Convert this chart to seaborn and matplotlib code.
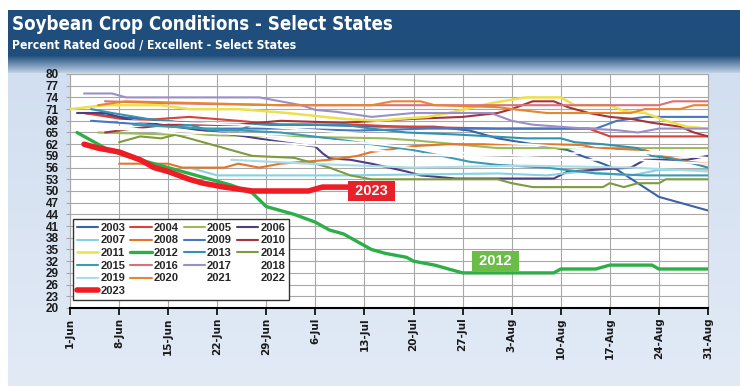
import numpy as np
import pandas as pd
import matplotlib
matplotlib.use("Agg")
import matplotlib.pyplot as plt
import seaborn as sns
from matplotlib.colors import to_rgb

sns.set_theme(style="white")
plt.rcParams['font.family'] = ['Liberation Sans', 'DejaVu Sans']

# ---------------- data ----------------
tick_labels = ["1-Jun", "8-Jun", "15-Jun", "22-Jun", "29-Jun", "6-Jul", "13-Jul",
               "20-Jul", "27-Jul", "3-Aug", "10-Aug", "17-Aug", "24-Aug", "31-Aug"]
y_ticks = list(range(20, 81, 3))

d2003 = ["Jun-03", "Jun-08", "Jun-14", "Jun-22", "Jul-05", "Jul-15", "Jul-23", "Jul-28", "Aug-01",
         "Aug-06", "Aug-11", "Aug-13", "Aug-16", "Aug-18", "Aug-21", "Aug-24", "Aug-27", "Aug-29", "Aug-31"]
v2003 = [70, 69, 68, 67, 67, 66.5, 66.5, 65.5, 63.5, 62, 60.5, 59, 57, 55.5, 52, 48.5, 47, 46, 45]

d2004 = ["Jun-03", "Jun-10", "Jun-18", "Jun-25", "Jul-01", "Jul-12", "Jul-18", "Aug-01", "Aug-14", "Aug-17", "Aug-31"]
v2004 = [70, 68, 69, 68, 67, 67, 66.5, 66, 66, 64, 64]

d2005 = ["Jun-05", "Jun-15", "Jul-01", "Jul-16", "Jul-20", "Aug-01", "Aug-15", "Aug-31"]
v2005 = [65, 64.5, 64, 63.5, 63, 61, 61, 61]

d2006 = ["Jun-02", "Jun-06", "Jun-10", "Jun-18", "Jun-26", "Jul-01", "Jul-06", "Jul-07", "Jul-08", "Jul-11",
         "Jul-14", "Jul-16", "Jul-19", "Jul-21", "Jul-26", "Aug-09", "Aug-11", "Aug-20", "Aug-22", "Aug-28", "Aug-31"]
v2006 = [70, 70, 68, 66, 64, 62.6, 61.4, 59.7, 58.4, 58, 57, 56.2, 55, 54, 53.2, 53.2, 55, 56, 58, 58, 59]

d2007 = ["Jun-18", "Jun-22", "Jul-10", "Aug-01", "Aug-08", "Aug-13", "Aug-20", "Aug-24", "Aug-31"]
v2007 = [56, 54, 54, 54.5, 54, 55, 54, 55.4, 55.4]

d2008 = ["Jun-08", "Jun-15", "Jun-17", "Jun-23", "Jun-25", "Jun-28", "Jul-01", "Jul-08", "Jul-12", "Jul-14",
         "Jul-20", "Jul-25", "Aug-08", "Aug-13", "Aug-15", "Aug-22", "Aug-24", "Aug-28", "Aug-31"]
v2008 = [57, 57, 56, 56, 57, 56, 57, 58, 59, 60, 61.5, 62, 62, 61.8, 61, 60.5, 59.2, 57.5, 57]

d2009 = ["Jun-04", "Jun-12", "Jun-20", "Jul-01", "Jul-12", "Jul-22", "Aug-05", "Aug-15", "Aug-18", "Aug-22", "Aug-31"]
v2009 = [68, 67, 66, 66, 65.5, 66, 66, 66, 68, 69, 69]

d2010 = ["Jun-06", "Jun-10", "Jun-15", "Jun-25", "Jul-01", "Jul-10", "Jul-20", "Jul-27", "Aug-01", "Aug-03",
         "Aug-06", "Aug-09", "Aug-11", "Aug-14", "Aug-17", "Aug-20", "Aug-23", "Aug-27", "Aug-29", "Aug-31"]
v2010 = [65, 66, 67, 67, 68, 67.5, 68.5, 69, 70, 71, 73, 73, 71.5, 70, 69, 68.5, 67.5, 66.5, 65, 64]

d2011 = ["Jun-01", "Jun-06", "Jun-14", "Jun-18", "Jun-25", "Jul-02", "Jul-10", "Jul-15", "Jul-18", "Jul-22",
         "Jul-25", "Jul-31", "Aug-05", "Aug-10", "Aug-12", "Aug-17", "Aug-19", "Aug-22", "Aug-25", "Aug-28", "Aug-31"]
v2011 = [71, 72, 72, 71, 71, 70, 68.5, 68, 68.5, 69, 70, 72.5, 74, 74, 72, 72, 70.5, 70, 68, 66.5, 66]

d2012 = ["Jun-02", "Jun-03", "Jun-06", "Jun-09", "Jun-12", "Jun-15", "Jun-18", "Jun-21", "Jun-24", "Jun-27",
         "Jun-29", "Jul-01", "Jul-03", "Jul-06", "Jul-08", "Jul-10", "Jul-12", "Jul-14", "Jul-16", "Jul-19",
         "Jul-20", "Jul-23", "Jul-27", "Aug-09", "Aug-10", "Aug-15", "Aug-17", "Aug-23", "Aug-24", "Aug-31"]
v2012 = [65, 64, 61, 59, 57.5, 56, 54.5, 53, 51.5, 49.5, 46, 45, 44, 42, 40, 39, 37, 35, 34, 33,
         32, 31, 29, 29, 30, 30, 31, 31, 30, 30]

d2013 = ["Jun-04", "Jun-07", "Jun-12", "Jun-15", "Jun-18", "Jun-21", "Jun-25", "Jun-27", "Jul-03", "Jul-10",
         "Jul-14", "Jul-19", "Jul-26", "Jul-31", "Aug-05", "Aug-10", "Aug-12", "Aug-16", "Aug-21", "Aug-23",
         "Aug-25", "Aug-29", "Aug-31"]
v2013 = [71, 70, 68.5, 68, 67, 65.5, 65.5, 67, 67, 67, 66, 65, 64.5, 64, 63.5, 63.5, 62.5, 62, 61, 59,
         58.5, 57, 56]

d2014 = ["Jun-08", "Jun-11", "Jun-14", "Jun-16", "Jun-18", "Jun-21", "Jun-23", "Jun-25", "Jun-27", "Jul-03",
         "Jul-05", "Jul-08", "Jul-11", "Jul-14", "Jul-20", "Aug-01", "Aug-03", "Aug-06", "Aug-16", "Aug-17",
         "Aug-19", "Aug-21", "Aug-24", "Aug-25", "Aug-31"]
v2014 = [62.5, 64, 63.5, 64.4, 63.5, 62, 61, 60, 59, 58.5, 57.5, 56, 54, 53, 53, 53, 52, 51, 51, 52,
         51, 52, 52, 53, 53]

d2015 = ["Jun-10", "Jun-20", "Jul-01", "Jul-08", "Jul-14", "Jul-20", "Jul-24", "Jul-28", "Aug-01", "Aug-08",
         "Aug-15", "Aug-22", "Aug-31"]
v2015 = [67, 66, 65, 63.5, 62, 60.5, 59, 57.5, 56.7, 56, 54.5, 54, 54]

d2016 = ["Jun-06", "Jun-15", "Jul-01", "Jul-15", "Aug-01", "Aug-24", "Aug-26", "Aug-31"]
v2016 = [73, 72.5, 72, 72, 72, 72, 73, 73]

d2017 = ["Jun-03", "Jun-07", "Jun-09", "Jun-28", "Jul-01", "Jul-04", "Jul-06", "Jul-09", "Jul-14", "Jul-20",
         "Jul-31", "Aug-03", "Aug-06", "Aug-12", "Aug-18", "Aug-21", "Aug-24", "Aug-31"]
v2017 = [75, 75, 74, 74, 73, 72, 70.8, 70.3, 69, 70, 70, 68, 67, 66.2, 65.6, 65, 66, 66]

d2018 = ["Jun-05", "Jun-15", "Jun-30", "Jul-15", "Jul-25", "Aug-05", "Aug-15", "Aug-31"]
v2018 = [66, 65.5, 64, 62, 60, 59, 60, 60]

d2019 = ["Jun-24", "Jul-05", "Jul-20", "Aug-05", "Aug-20", "Aug-31"]
v2019 = [58, 57, 56, 56.5, 56, 55]

d2020 = ["Jun-05", "Jun-09", "Jun-20", "Jul-01", "Jul-14", "Jul-17", "Jul-21", "Jul-23", "Aug-01", "Aug-04",
         "Aug-08", "Aug-20", "Aug-22", "Aug-27", "Aug-29", "Aug-31"]
v2020 = [72, 73, 72.5, 72, 72, 73, 73, 72, 71.5, 70.8, 70, 70, 71, 71, 72, 72]

d2021 = ["Jun-05", "Jun-20", "Jul-10", "Jul-25", "Aug-10", "Aug-20", "Aug-31"]
v2021 = [67, 64, 61, 59, 58, 58, 57]

d2022 = ["Jun-08", "Jun-25", "Jul-10", "Jul-25", "Aug-05", "Aug-20", "Aug-31"]
v2022 = [68, 67, 65, 63, 62, 60, 58.5]

d2023 = ["Jun-03", "Jun-05", "Jun-08", "Jun-11", "Jun-13", "Jun-15", "Jun-18", "Jun-20", "Jun-23", "Jun-27",
         "Jul-05", "Jul-07", "Jul-11"]
v2023 = [62, 61, 60, 58, 56, 55, 53, 52, 51, 50, 50, 51, 51]

# ---------------- styles ----------------
series = {
    2003: (d2003, v2003, "#3C63A6", 1.5),
    2004: (d2004, v2004, "#D9423A", 1.5),
    2005: (d2005, v2005, "#9BBB59", 1.5),
    2006: (d2006, v2006, "#4E3E82", 1.5),
    2007: (d2007, v2007, "#86D2E2", 1.5),
    2008: (d2008, v2008, "#E3762A", 1.5),
    2009: (d2009, v2009, "#4677C0", 1.5),
    2010: (d2010, v2010, "#A4343A", 1.5),
    2011: (d2011, v2011, "#EDE04A", 1.8),
    2012: (d2012, v2012, "#2EAE48", 2.4),
    2013: (d2013, v2013, "#3193AD", 1.5),
    2014: (d2014, v2014, "#7E9B3E", 1.5),
    2015: (d2015, v2015, "#3A9BB5", 1.5),
    2016: (d2016, v2016, "#D9707A", 1.5),
    2017: (d2017, v2017, "#9A8FC8", 1.5),
    2018: (d2018, v2018, "#FFFFFF", 1.4),
    2019: (d2019, v2019, "#A8DCE6", 1.5),
    2020: (d2020, v2020, "#E8852F", 1.5),
    2021: (d2021, v2021, "#FFFFFF", 1.4),
    2022: (d2022, v2022, "#FFFFFF", 1.4),
    2023: (d2023, v2023, "#EE1C25", 4.0),
}

base = pd.Timestamp("2023-06-01")


def to_days(ds):
    return [(pd.to_datetime("2023-" + s, format="%Y-%b-%d") - base).days for s in ds]


W, H = 740, 386
fig = plt.figure(figsize=(W / 100, H / 100), dpi=100)

# background: white border, dark blue banner, fade into light blue
bg = np.ones((H, W, 3))
c_ban = np.array(to_rgb("#1F4D7C"))
c_fade = np.array(to_rgb("#C6D6EB"))
c_top = np.array(to_rgb("#D2DFF0"))
c_bot = np.array(to_rgb("#E2EAF6"))
for r in range(H):
    if r < 10:
        col = np.array([1.0, 1.0, 1.0])
    elif r < 55:
        col = c_ban
    elif r < 73:
        t = (r - 55) / 18.0
        col = c_ban * (1 - t) + c_fade * t
    else:
        t = (r - 73) / (H - 73)
        col = c_top * (1 - t) + c_bot * t
    bg[r, 8:, :] = col
bg_ax = fig.add_axes([0, 0, 1, 1], zorder=-10)
bg_ax.imshow(bg, aspect="auto", extent=[0, 1, 0, 1], origin="upper")
bg_ax.axis("off")

title = fig.text(12 / W, 1 - 24 / H, "Soybean Crop Conditions - Select States", color="white",
                 fontsize=15.5, fontweight="bold", va="center", ha="left",
                 family=["Liberation Sans Narrow", "DejaVu Sans"], fontstretch="condensed")
subtitle = fig.text(12 / W, 1 - 45 / H, "Percent Rated Good / Excellent - Select States", color="white",
                    fontsize=10, fontweight="bold", va="center", ha="left",
                    family=["Liberation Sans Narrow", "DejaVu Sans"], fontstretch="condensed")

ax = fig.add_axes([70 / W, 1 - 308 / H, 638 / W, 234 / H])
ax.set_facecolor("white")

order = [y for y in series if y not in (2018, 2021, 2022, 2012, 2023)] + [2018, 2021, 2022, 2012, 2023]
for i, yr in enumerate(order):
    ds, vs, c, lw = series[yr]
    sns.lineplot(x=to_days(ds), y=vs, ax=ax, color=c, linewidth=lw, label=str(yr),
                 sort=False, estimator=None, zorder=3 + i * 0.01)

ax.set_xlim(0, 91)
ax.set_ylim(20, 80)
ax.set_xticks(range(0, 92, 7))
ax.set_xticklabels(tick_labels, rotation=90, fontsize=7.5, fontweight="bold",
                   family=["DejaVu Sans"], color="#1A1A1A")
ax.set_yticks(y_ticks)
ax.set_yticklabels([str(v) for v in y_ticks], fontsize=8.5, fontweight="bold", color="#1A1A1A")
ax.grid(True, color="#A8A8A8", linewidth=0.8)
ax.set_axisbelow(True)
ax.tick_params(axis="x", direction="out", length=5, width=1.2, color="black", pad=2, bottom=True)
ax.tick_params(axis="y", direction="out", length=3, width=0.8, color="#A8A8A8", pad=5, left=True)
for s in ["top", "right", "left"]:
    ax.spines[s].set_color("#A8A8A8")
    ax.spines[s].set_linewidth(0.8)
ax.spines["bottom"].set_color("black")
ax.spines["bottom"].set_linewidth(1.5)
ax.set_xlabel("")
ax.set_ylabel("")

# labels on the two highlighted years
ax.text(43, 50, " 2023 ", color="white", fontsize=10.5, fontweight="bold", ha="center", va="center",
        zorder=10, bbox=dict(boxstyle="square,pad=0.22", fc="#E8202A", ec="none"))
ax.text(60.7, 32, " 2012 ", color="white", fontsize=10.5, fontweight="bold", ha="center", va="center",
        zorder=10, bbox=dict(boxstyle="square,pad=0.22", fc="#6CBD48", ec="none"))

# legend, row-major order like the reference
handles, labels = ax.get_legend_handles_labels()
hmap = dict(zip(labels, handles))
years_sorted = sorted(series.keys())
ncol = 4
cols = [years_sorted[c::ncol] for c in range(ncol)]
leg_order = [y for col in cols for y in col]
leg = ax.legend([hmap[str(y)] for y in leg_order], [str(y) for y in leg_order], ncol=ncol,
                loc="lower left", bbox_to_anchor=(0.005, 0.034), borderaxespad=0, frameon=True,
                fancybox=False, edgecolor="#333333", facecolor="white", framealpha=1, borderpad=0.35,
                handlelength=1.9, handletextpad=0.2, columnspacing=0.45, labelspacing=0.24,
                prop=dict(size=8, weight="bold"))
leg.get_frame().set_linewidth(1.0)
leg.set_zorder(20)

# fit the title texts to the widths seen in the reference
fig.canvas.draw()
r = fig.canvas.get_renderer()
for t, target in ((title, 383), (subtitle, 283)):
    w = t.get_window_extent(r).width
    t.set_fontsize(t.get_fontsize() * target / w)

fig.savefig("out.png", dpi=100)
